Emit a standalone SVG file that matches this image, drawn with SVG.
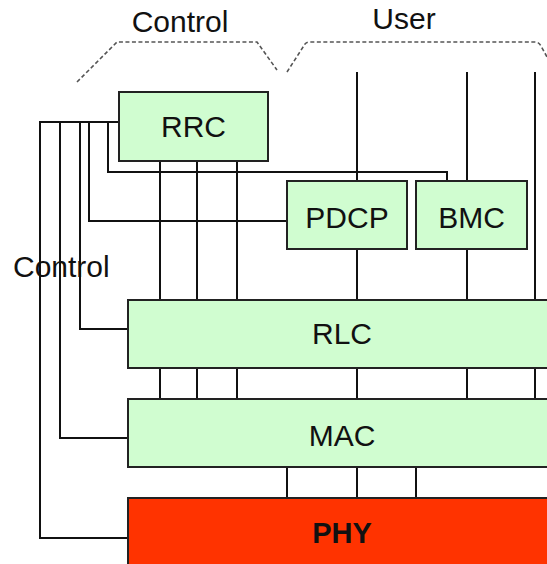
<svg xmlns="http://www.w3.org/2000/svg" width="547" height="564" viewBox="0 0 547 564">
  <style>
    .box { fill: #d0fdd0; stroke: #222; stroke-width: 2; }
    .phy { fill: #ff3300; stroke: #222; stroke-width: 2; }
    .lbl { font-family: "Liberation Sans", Arial, sans-serif; font-size: 30px; fill: #111; text-anchor: middle; }
    .side { font-family: "Liberation Sans", Arial, sans-serif; font-size: 30px; fill: #111; }
    .bold { font-weight: bold; font-size: 29px; }
    .wire { fill: none; stroke: #111; stroke-width: 2; }
    .brace { fill: none; stroke: #555; stroke-width: 1.6; stroke-dasharray: 4 2.5; }
  </style>
  <rect width="547" height="564" fill="#fff"/>

  <!-- plane braces and titles -->
  <g id="planes">
    <path class="brace" d="M77 82 L117 42 L257 42 L277 70"/>
    <path class="brace" d="M287 72 L305 44 Q307 42 310 42 L535 42 Q539 42 541 46 L552 66"/>
    <text class="lbl" x="180" y="32">Control</text>
    <text class="lbl" x="404" y="29">User</text>
    <text class="side" x="13" y="277">Control</text>
  </g>

  <!-- connectors -->
  <g id="connectors">
    <!-- control bus from RRC to lower layers -->
    <path class="wire" d="M119 122 H40 V538 H128"/>
    <path class="wire" d="M60 122 V438 H128"/>
    <path class="wire" d="M80 122 V329 H128"/>
    <path class="wire" d="M89 122 V221 H287"/>
    <path class="wire" d="M108 122 V172 H447 V181"/>
    <!-- RRC to RLC -->
    <path class="wire" d="M160 161 V300 M197 161 V300 M237 161 V300"/>
    <!-- user plane -->
    <path class="wire" d="M357 72 V181 M357 249 V300"/>
    <path class="wire" d="M467 72 V181 M467 249 V300"/>
    <path class="wire" d="M535 72 V300"/>
    <!-- RLC to MAC -->
    <path class="wire" d="M160 368 V399 M197 368 V399 M237 368 V399 M357 368 V399 M467 368 V399 M535 368 V399"/>
    <!-- MAC to PHY -->
    <path class="wire" d="M287 467 V498 M357 467 V498 M416 467 V498"/>
  </g>

  <g id="rrc">
    <rect class="box" x="119" y="92" width="149" height="69"/>
    <text class="lbl" x="193.5" y="137">RRC</text>
  </g>
  <g id="pdcp">
    <rect class="box" x="287" y="181" width="120" height="68"/>
    <text class="lbl" x="347" y="228">PDCP</text>
  </g>
  <g id="bmc">
    <rect class="box" x="416" y="181" width="111" height="68"/>
    <text class="lbl" x="471.5" y="228">BMC</text>
  </g>
  <g id="rlc">
    <rect class="box" x="128" y="300" width="430" height="68"/>
    <text class="lbl" x="342" y="344">RLC</text>
  </g>
  <g id="mac">
    <rect class="box" x="128" y="399" width="430" height="68"/>
    <text class="lbl" x="342" y="446">MAC</text>
  </g>
  <g id="phy">
    <rect class="phy" x="128" y="498" width="430" height="80"/>
    <text class="lbl bold" x="342" y="543">PHY</text>
  </g>
</svg>
